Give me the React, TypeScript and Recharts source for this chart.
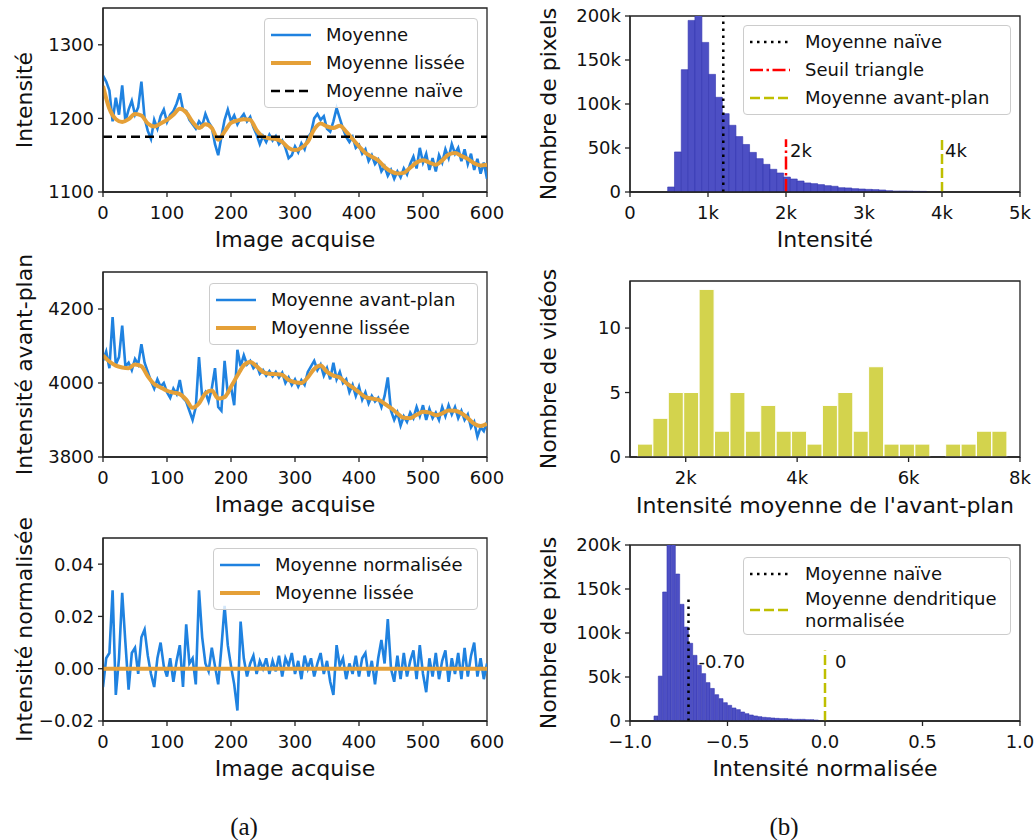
import type { ReactNode } from 'react';
import { LineChart, Line, BarChart, Bar, XAxis, YAxis, ReferenceLine, ReferenceDot, ReferenceArea } from 'recharts';

const FONT = '"DejaVu Sans", Verdana, sans-serif';
const INK = '#111';
const SPINE = '#222';
const BLUE = '#1f82e0';
const ORANGE = '#e5a038';
const HIST_BLUE = '#4d4fc4';
const HIST_EDGE = '#3436b0';
const OLIVE = '#d3d34d';
const YELLOW = '#bfbf00';
const RED = '#ff0000';

// raw traces are sampled every 5th acquired image, smoothed curves every 10th
const RAW_FRAMES = Array.from({ length: 121 }, (_, i) => i * 5);
const SMOOTH_FRAMES = Array.from({ length: 61 }, (_, i) => i * 10);
const FRAME_TICKS = [0, 100, 200, 300, 400, 500, 600];

// (a) top: mean intensity per frame
const MEAN_RAW = [
  1258, 1250, 1238, 1196, 1228, 1205, 1245, 1196, 1212, 1224,
  1205, 1215, 1250, 1200, 1183, 1172, 1198, 1186, 1203, 1212,
  1195, 1205, 1210, 1220, 1234, 1212, 1210, 1198, 1192, 1186,
  1196, 1190, 1206, 1195, 1188, 1165, 1150, 1175, 1198, 1212,
  1196, 1204, 1192, 1200, 1206, 1196, 1202, 1188, 1178, 1165,
  1176, 1168, 1178, 1170, 1176, 1165, 1170, 1160, 1146, 1150,
  1162, 1154, 1166, 1158, 1174, 1180, 1200, 1206, 1198, 1203,
  1186, 1182, 1196, 1214, 1200, 1186, 1175, 1168, 1175, 1160,
  1164, 1152, 1158, 1142, 1150, 1138, 1144, 1128, 1135, 1122,
  1130, 1118, 1128, 1120, 1132, 1124, 1138, 1148, 1132, 1160,
  1140, 1152, 1130, 1146, 1128, 1150, 1140, 1158, 1146, 1165,
  1152, 1160, 1142, 1158, 1138, 1152, 1130, 1145, 1125, 1140,
  1118,
];
const MEAN_SMOOTH = [
  1244, 1213, 1199, 1195, 1199, 1206, 1204, 1193, 1189, 1193,
  1198, 1205, 1213, 1208, 1195, 1187, 1192, 1187, 1171, 1182,
  1194, 1197, 1199, 1198, 1184, 1175, 1173, 1172, 1168, 1160,
  1157, 1160, 1168, 1185, 1193, 1189, 1187, 1190, 1182, 1172,
  1162, 1153, 1148, 1143, 1134, 1128, 1125, 1126, 1133, 1140,
  1143, 1140, 1137, 1143, 1151, 1153, 1149, 1145, 1139, 1136,
  1137,
];
const NAIVE_MEAN = 1175;

// (a) middle: foreground mean per frame
const FG_RAW = [
  4060, 4085, 4040, 4178, 4050, 4070, 4155, 4045, 4055, 4035,
  4065, 4050, 4105, 4055, 4030, 4005, 3985, 4010, 3990, 4000,
  3975, 3960, 3985, 3970, 4008, 3960, 3950, 3925, 3900, 3935,
  4070, 3960, 3975, 3950, 3985, 4040, 3935, 3925, 4060, 3970,
  3990, 3940, 4090, 4045, 4075, 4050, 4060, 4040, 4050, 4025,
  4035, 4020, 4032, 4018, 4030, 4015, 4028, 4000, 4015, 3995,
  4010, 3990, 4008, 3995, 4030, 4045, 4060, 4035, 4050, 4020,
  4040, 4010, 4055, 4010, 4030, 4000, 4010, 3975, 3995, 3965,
  3990, 3955, 3975, 3945, 3965, 3950, 3960, 3935, 3965, 4015,
  3925, 3900, 3920, 3885, 3910, 3895, 3920, 3905, 3935, 3910,
  3940, 3900, 3930, 3905, 3920, 3900, 3935, 3910, 3940, 3915,
  3935, 3905, 3925, 3900, 3915, 3880, 3895, 3855, 3880, 3870,
  3895,
];
const FG_SMOOTH = [
  4075, 4058, 4047, 4042, 4040, 4050, 4045, 4018, 3997, 3988,
  3979, 3974, 3970, 3955, 3933, 3945, 3972, 3980, 3958, 3962,
  3990, 4020, 4048, 4057, 4045, 4030, 4025, 4024, 4022, 4008,
  4002, 4000, 4015, 4038, 4047, 4030, 4020, 4015, 4000, 3988,
  3975, 3962, 3958, 3955, 3944, 3932, 3918, 3906, 3905, 3914,
  3922, 3920, 3913, 3918, 3926, 3925, 3918, 3905, 3890, 3884,
  3890,
];

// (a) bottom: normalized mean per frame
const NORM_RAW = [
  -0.007, 0.004, 0.006, 0.030, -0.010, 0.004, 0.029, 0.010, -0.008, 0.006,
  0.008, -0.002, 0.012, 0.015, 0.005, -0.002, -0.007, 0.004, 0.010, 0.001,
  -0.003, 0.004, -0.005, 0.003, 0.009, -0.007, 0.017, 0.002, 0.004, -0.006,
  0.030, 0.012, 0.002, -0.001, 0.008, 0.001, -0.006, 0.008, 0.024, 0.009,
  0.001, -0.006, -0.016, 0.018, 0.004, -0.003, 0.002, 0.005, -0.002, 0.003,
  0.000, 0.004, -0.002, 0.003, -0.001, 0.005, -0.003, 0.004, 0.001, 0.006,
  -0.002, 0.003, -0.004, 0.005, 0.000, 0.004, -0.003, 0.002, 0.006, -0.002,
  0.003, -0.005, -0.010, 0.009, 0.001, 0.004, -0.004, 0.002, -0.002, 0.005,
  -0.003, 0.004, 0.006, -0.003, 0.003, -0.006, 0.004, 0.011, 0.002, 0.019,
  0.000, -0.005, 0.005, -0.004, 0.006, -0.003, 0.003, 0.007, -0.004, 0.009,
  -0.002, -0.009, 0.004, -0.003, 0.006, -0.004, 0.003, 0.007, -0.005, 0.004,
  -0.002, 0.006, -0.004, 0.008, -0.003, 0.005, 0.010, -0.003, 0.004, -0.004,
  0.002,
];
const NORM_SMOOTH_FRAMES = [0, 100, 200, 300, 400, 500, 600];
const NORM_SMOOTH = [0, 0, 0, 0, 0, 0, 0];

// (b) top: pixel intensity histogram
const PIX_BIN_START = 483;
const PIX_BIN_WIDTH = 87.3;
const PIX_COUNTS = [
  5700, 45500, 139000, 195000, 203000, 170000, 133700, 107600, 89000, 75800,
  63000, 54000, 45000, 37900, 31400, 25800, 21600, 17000, 14800, 12500,
  10300, 9500, 8400, 7200, 6500, 4900, 4600, 3800, 3400, 3000,
  2700, 2300, 1500, 1100, 1100, 1000, 800, 700,
];
const PIX_NAIVE = 1196;
const TRIANGLE_THRESHOLD = 2000;
const FG_MEAN = 4000;

// (b) middle: per-video foreground mean
const VID_BIN_START = 1134;
const VID_BIN_WIDTH = 276.6;
const VID_COUNTS = [1, 3, 5, 5, 13, 2, 5, 2, 4, 2, 2, 1, 4, 5, 2, 7, 1, 1, 1, 0, 1, 1, 2, 2];

// (b) bottom: normalized intensity histogram
const NORM_BIN_START = -0.877;
const NORM_BIN_WIDTH = 0.02223;
const NORM_COUNTS = [
  5700, 51000, 146600, 215000, 205000, 167000, 132600, 106800, 88300, 74600,
  63300, 53800, 43600, 37000, 29900, 25400, 20800, 17800, 14800, 12900,
  10200, 8300, 6800, 5700, 4900, 4200, 3800, 3400, 3000, 2700,
  2700, 2300, 1900, 1900, 1900, 1500, 1500, 1100,
];
const NORM_NAIVE = -0.7;
const DENDRITE_MEAN = 0;

const meanRaw = RAW_FRAMES.map((f, i) => ({ f, v: MEAN_RAW[i] }));
const meanSmooth = SMOOTH_FRAMES.map((f, i) => ({ f, v: MEAN_SMOOTH[i] }));
const fgRaw = RAW_FRAMES.map((f, i) => ({ f, v: FG_RAW[i] }));
const fgSmooth = SMOOTH_FRAMES.map((f, i) => ({ f, v: FG_SMOOTH[i] }));
const normRaw = RAW_FRAMES.map((f, i) => ({ f, v: NORM_RAW[i] }));
const normSmooth = NORM_SMOOTH_FRAMES.map((f, i) => ({ f, v: NORM_SMOOTH[i] }));

const pixBins = PIX_COUNTS.map((n, i) => ({ x: PIX_BIN_START + PIX_BIN_WIDTH * (i + 0.5), n }));
const vidBins = VID_COUNTS.map((n, i) => ({ x: VID_BIN_START + VID_BIN_WIDTH * (i + 0.5), n }));
const normBins = NORM_COUNTS.map((n, i) => ({ x: NORM_BIN_START + NORM_BIN_WIDTH * (i + 0.5), n }));

const tickStyle = { fontSize: 18, fontFamily: FONT, fill: INK };
const spine = { stroke: SPINE, strokeWidth: 1.3 };

const kilo = (v: number) => (v === 0 ? '0' : `${v / 1000}k`);
const signed = (digits: number) => (v: number) => (v < 0 ? '\u2212' : '') + Math.abs(v).toFixed(digits);

const xTitle = (text: string, dy = 55) => (props: any) => {
  const vb = props.viewBox;
  return (
    <text x={vb.x + vb.width / 2} y={vb.y + dy} textAnchor="middle" fontSize={22} fontFamily={FONT} fill={INK}>
      {text}
    </text>
  );
};

const yTitle = (text: string, dx: number) => (props: any) => {
  const vb = props.viewBox;
  const x = vb.x + dx;
  const y = vb.y + vb.height / 2;
  return (
    <text x={x} y={y} transform={`rotate(-90 ${x} ${y})`} textAnchor="middle" fontSize={22} fontFamily={FONT} fill={INK}>
      {text}
    </text>
  );
};

const valueTag = (text: string, dx: number) => (props: any) => {
  const vb = props.viewBox;
  return (
    <text x={vb.x + vb.width / 2 + dx} y={vb.y + vb.height / 2} fontSize={18} fontFamily={FONT} fill={INK}>
      {text}
    </text>
  );
};

// box around the plot area (top and right spines included)
const frame = (xDomain: number[], yDomain: number[]) => (
  <ReferenceArea x1={xDomain[0]} x2={xDomain[1]} y1={yDomain[0]} y2={yDomain[1]}
    fill="none" fillOpacity={0} stroke={SPINE} strokeWidth={1.3} ifOverflow="visible" />
);

const Place = ({ left, top, children }: { left: number; top: number; children: ReactNode }) => (
  <div style={{ position: 'absolute', left, top }}>{children}</div>
);

type Key = { label: string[]; color: string; width: number; dash?: string };

function KeyBox({ left, top, width, items }: { left: number; top: number; width: number; items: Key[] }) {
  return (
    <div
      style={{
        position: 'absolute', left, top, width, boxSizing: 'border-box', padding: '2px 6px',
        background: 'rgba(255,255,255,0.8)', border: '1px solid #cccccc', borderRadius: 4,
        fontFamily: FONT, fontSize: 18, color: INK,
      }}
    >
      {items.map((item) => (
        <div key={item.label[0]} style={{ display: 'flex', alignItems: 'center', height: item.label.length > 1 ? item.label.length * 22 : 28 }}>
          <svg width={40} height={10} style={{ flex: 'none', marginRight: 15 }}>
            <line x1={0} y1={5} x2={40} y2={5} stroke={item.color} strokeWidth={item.width} strokeDasharray={item.dash} />
          </svg>
          <div style={{ lineHeight: '22px', whiteSpace: 'nowrap' }}>
            {item.label.map((l) => <div key={l}>{l}</div>)}
          </div>
        </div>
      ))}
    </div>
  );
}

// generous top margin so rotated axis titles are not clipped by the svg
const LEFT_MARGIN = { top: 40, right: 33, bottom: 0, left: 0 };
const RIGHT_MARGIN = { top: 40, right: 16, bottom: 0, left: 0 };

function TraceChart({ raw, smooth, yDomain, yTicks, yFmt, yLabel, height, children }: {
  raw: { f: number; v: number }[]; smooth: { f: number; v: number }[]; yDomain: number[]; yTicks: number[];
  yFmt?: (v: number) => string; yLabel: string; height: number; children?: ReactNode;
}) {
  return (
    <LineChart width={520} height={height} margin={LEFT_MARGIN}>
      <XAxis dataKey="f" type="number" domain={[0, 600]} ticks={FRAME_TICKS} interval={0} allowDataOverflow
        tick={tickStyle} tickSize={5} tickMargin={9} axisLine={spine} tickLine={spine} height={68}
        label={xTitle('Image acquise')} />
      <YAxis type="number" domain={yDomain} ticks={yTicks} interval={0} allowDataOverflow tickFormatter={yFmt}
        tick={tickStyle} tickSize={5} tickMargin={4} axisLine={spine} tickLine={spine} width={103}
        label={yTitle(yLabel, 32)} />
      <Line data={raw} dataKey="v" type="linear" stroke={BLUE} strokeWidth={2.6} dot={false} isAnimationActive={false} />
      <Line data={smooth} dataKey="v" type="monotone" stroke={ORANGE} strokeWidth={4} dot={false} isAnimationActive={false} />
      {children}
      {frame([0, 600], yDomain)}
    </LineChart>
  );
}

export default function App() {
  return (
    <div style={{ position: 'absolute', left: 0, top: 0, width: 1036, height: 840, background: '#fff', overflow: 'hidden', fontFamily: FONT }}>
      <Place left={0} top={-32}>
        <TraceChart raw={meanRaw} smooth={meanSmooth} yDomain={[1100, 1350]} yTicks={[1100, 1200, 1300]}
          yLabel="Intensité" height={292}>
          <ReferenceLine y={NAIVE_MEAN} stroke="#000" strokeWidth={2.5} strokeDasharray="9 5" />
        </TraceChart>
      </Place>
      <KeyBox left={264} top={18} width={214} items={[
        { label: ['Moyenne'], color: BLUE, width: 2.6 },
        { label: ['Moyenne lissée'], color: ORANGE, width: 4 },
        { label: ['Moyenne naïve'], color: '#000', width: 2.5, dash: '9 5' },
      ]} />

      <Place left={0} top={232}>
        <TraceChart raw={fgRaw} smooth={fgSmooth} yDomain={[3800, 4300]} yTicks={[3800, 4000, 4200]}
          yLabel="Intensité avant-plan" height={293} />
      </Place>
      <KeyBox left={209} top={283} width={269} items={[
        { label: ['Moyenne avant-plan'], color: BLUE, width: 2.6 },
        { label: ['Moyenne lissée'], color: ORANGE, width: 4 },
      ]} />

      <Place left={0} top={498}>
        <TraceChart raw={normRaw} smooth={normSmooth} yDomain={[-0.02, 0.05]} yTicks={[-0.02, 0, 0.02, 0.04]}
          yFmt={signed(2)} yLabel="Intensité normalisée" height={291} />
      </Place>
      <KeyBox left={213} top={548} width={265} items={[
        { label: ['Moyenne normalisée'], color: BLUE, width: 2.6 },
        { label: ['Moyenne lissée'], color: ORANGE, width: 4 },
      ]} />

      <Place left={520} top={-24}>
        <BarChart width={516} height={284} data={pixBins} margin={RIGHT_MARGIN} barCategoryGap={0} barGap={0}>
          <XAxis dataKey="x" type="number" domain={[0, 5000]} ticks={[0, 1000, 2000, 3000, 4000, 5000]} interval={0}
            allowDataOverflow tickFormatter={kilo} tick={tickStyle} tickSize={5} tickMargin={9} axisLine={spine}
            tickLine={spine} height={68} label={xTitle('Intensité')} />
          <YAxis type="number" domain={[0, 200000]} ticks={[0, 50000, 100000, 150000, 200000]} interval={0}
            allowDataOverflow tickFormatter={kilo} tick={tickStyle} tickSize={5} tickMargin={4} axisLine={spine}
            tickLine={spine} width={110} label={yTitle('Nombre de pixels', 36)} />
          <Bar dataKey="n" fill={HIST_BLUE} stroke={HIST_EDGE} strokeWidth={0.6} isAnimationActive={false} />
          <ReferenceLine x={PIX_NAIVE} stroke="#000" strokeWidth={2.5} strokeDasharray="2.5 4.5" />
          <ReferenceLine segment={[{ x: TRIANGLE_THRESHOLD, y: 0 }, { x: TRIANGLE_THRESHOLD, y: 60000 }]}
            stroke={RED} strokeWidth={2.5} strokeDasharray="13 3.5 2.5 3.5" />
          <ReferenceLine segment={[{ x: FG_MEAN, y: 0 }, { x: FG_MEAN, y: 60000 }]}
            stroke={YELLOW} strokeWidth={2.5} strokeDasharray="10 4" />
          <ReferenceDot x={TRIANGLE_THRESHOLD} y={40000} r={1} fill="none" stroke="none" label={valueTag('2k', 4)} />
          <ReferenceDot x={FG_MEAN} y={40000} r={1} fill="none" stroke="none" label={valueTag('4k', 3)} />
          {frame([0, 5000], [0, 200000])}
        </BarChart>
      </Place>
      <KeyBox left={743} top={25} width={268} items={[
        { label: ['Moyenne naïve'], color: '#000', width: 2.5, dash: '2.5 4.5' },
        { label: ['Seuil triangle'], color: RED, width: 2.5, dash: '13 3.5 2.5 3.5' },
        { label: ['Moyenne avant-plan'], color: YELLOW, width: 2.5, dash: '10 4' },
      ]} />

      <Place left={520} top={241}>
        <BarChart width={516} height={284} data={vidBins} margin={RIGHT_MARGIN} barCategoryGap={0} barGap={0}>
          <XAxis dataKey="x" type="number" domain={[1000, 8000]} ticks={[2000, 4000, 6000, 8000]} interval={0}
            allowDataOverflow tickFormatter={kilo} tick={tickStyle} tickSize={5} tickMargin={9} axisLine={spine}
            tickLine={spine} height={68} label={xTitle("Intensité moyenne de l'avant-plan", 56)} />
          <YAxis type="number" domain={[0, 13.65]} ticks={[0, 5, 10]} interval={0} allowDataOverflow
            tick={tickStyle} tickSize={5} tickMargin={4} axisLine={spine} tickLine={spine} width={110}
            label={yTitle('Nombre de vidéos', 36)} />
          <Bar dataKey="n" fill={OLIVE} stroke="#fff" strokeWidth={1} isAnimationActive={false} />
          {frame([1000, 8000], [0, 13.65])}
        </BarChart>
      </Place>

      <Place left={520} top={505}>
        <BarChart width={516} height={284} data={normBins} margin={RIGHT_MARGIN} barCategoryGap={0} barGap={0}>
          <XAxis dataKey="x" type="number" domain={[-1, 1]} ticks={[-1, -0.5, 0, 0.5, 1]} interval={0}
            allowDataOverflow tickFormatter={signed(1)} tick={tickStyle} tickSize={5} tickMargin={9} axisLine={spine}
            tickLine={spine} height={68} label={xTitle('Intensité normalisée')} />
          <YAxis type="number" domain={[0, 200000]} ticks={[0, 50000, 100000, 150000, 200000]} interval={0}
            allowDataOverflow tickFormatter={kilo} tick={tickStyle} tickSize={5} tickMargin={4} axisLine={spine}
            tickLine={spine} width={110} label={yTitle('Nombre de pixels', 36)} />
          <Bar dataKey="n" fill={HIST_BLUE} stroke={HIST_EDGE} strokeWidth={0.6} isAnimationActive={false} />
          <ReferenceLine segment={[{ x: NORM_NAIVE, y: 0 }, { x: NORM_NAIVE, y: 140000 }]}
            stroke="#000" strokeWidth={2.5} strokeDasharray="2.5 4.5" />
          <ReferenceLine segment={[{ x: DENDRITE_MEAN, y: 0 }, { x: DENDRITE_MEAN, y: 80000 }]}
            stroke={YELLOW} strokeWidth={2.5} strokeDasharray="10 4" />
          <ReferenceDot x={NORM_NAIVE} y={60000} r={1} fill="none" stroke="none" label={valueTag('-0.70', 10)} />
          <ReferenceDot x={DENDRITE_MEAN} y={60000} r={1} fill="none" stroke="none" label={valueTag('0', 10)} />
          {frame([-1, 1], [0, 200000])}
        </BarChart>
      </Place>
      <KeyBox left={743} top={557} width={268} items={[
        { label: ['Moyenne naïve'], color: '#000', width: 2.5, dash: '2.5 4.5' },
        { label: ['Moyenne dendritique', 'normalisée'], color: YELLOW, width: 2.5, dash: '10 4' },
      ]} />

      <div style={{ position: 'absolute', left: 204, top: 812, width: 80, textAlign: 'center', fontFamily: '"Liberation Serif", serif', fontSize: 25, lineHeight: '30px', color: INK }}>(a)</div>
      <div style={{ position: 'absolute', left: 744, top: 812, width: 80, textAlign: 'center', fontFamily: '"Liberation Serif", serif', fontSize: 25, lineHeight: '30px', color: INK }}>(b)</div>
    </div>
  );
}
